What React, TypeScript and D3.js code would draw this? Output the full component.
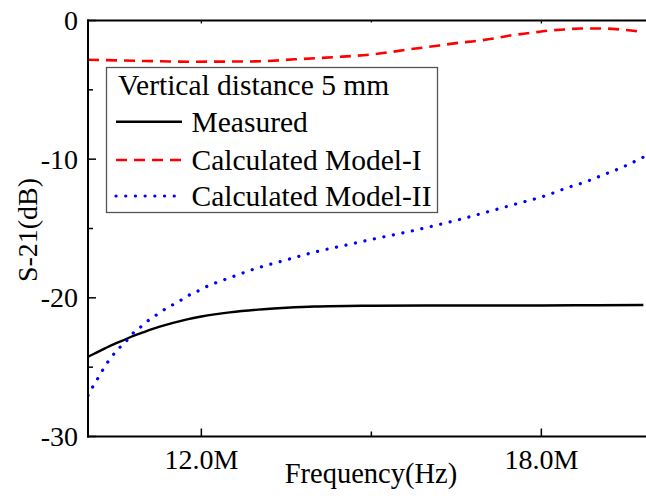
import React from "react";
import * as d3 from "d3";

const measuredFreq = [10.0, 10.15, 10.3, 10.45, 10.6, 10.8, 11.0, 11.25, 11.5, 11.75, 12.0, 12.5, 13.0, 13.5, 14.0, 15.0, 16.0, 17.0, 18.0, 19.0, 19.8];
const measuredDb = [-24.25, -23.95, -23.65, -23.35, -23.1, -22.75, -22.45, -22.1, -21.8, -21.55, -21.35, -21.05, -20.85, -20.72, -20.63, -20.57, -20.55, -20.55, -20.55, -20.53, -20.52];

const model1Freq = [10.0, 11.0, 11.76, 12.95, 13.65, 14.36, 14.99, 15.24, 15.6, 16.2, 16.5, 16.9, 17.2, 17.5, 17.8, 18.1, 18.4, 18.7, 19.1, 19.4, 19.8];
const model1Db = [-2.83, -2.92, -2.97, -2.95, -2.8, -2.64, -2.45, -2.33, -2.12, -1.8, -1.63, -1.45, -1.27, -1.05, -0.9, -0.74, -0.65, -0.58, -0.58, -0.65, -0.84];

const model2Freq = [10.0, 10.1, 10.19, 10.29, 10.39, 10.53, 10.66, 10.78, 10.89, 11.01, 11.15, 11.29, 11.45, 11.59, 11.74, 11.92, 12.14, 12.3, 12.47, 12.95, 13.47, 14.0, 14.55, 15.1, 15.63, 16.16, 16.51, 17.05, 17.58, 18.1, 18.43, 18.77, 19.08, 19.42, 19.8];
const model2Db = [-27.05, -26.3, -25.7, -25.0, -24.4, -23.7, -23.2, -22.6, -22.25, -21.8, -21.4, -21.0, -20.6, -20.3, -19.9, -19.55, -19.1, -18.85, -18.6, -17.9, -17.3, -16.7, -16.2, -15.7, -15.25, -14.75, -14.4, -13.8, -13.2, -12.6, -12.1, -11.65, -11.15, -10.6, -9.85];

const xMajorTicks = [12, 18];
const xMajorLabels = ["12.0M", "18.0M"];
const xMinorTicks = [15];
const yMajorTicks = [0, -10, -20, -30];
const yMinorTicks = [-5, -15, -25];

const legendTitle = "Vertical distance 5 mm";
const seriesNames = ["Measured", "Calculated Model-I", "Calculated Model-II"];

const W = 646;
const H = 496;
const left = 88;
const top = 20.5;
const bottom = 436.5;

const FONT = "'Liberation Serif', 'Times New Roman', serif";

export default function App() {
  const x = d3.scaleLinear().domain([10, 20]).range([left, left + 566.7]);
  const y = d3.scaleLinear().domain([-30, 0]).range([bottom, top]);

  const line = d3
    .line<[number, number]>()
    .x((d) => x(d[0]))
    .y((d) => y(d[1]))
    .curve(d3.curveMonotoneX);

  const mk = (f: number[], v: number[]) => f.map((ff, i) => [ff, v[i]] as [number, number]);

  const series = [
    { d: mk(measuredFreq, measuredDb), color: "#000", dash: undefined as string | undefined, width: 2.4, cap: "butt" },
    { d: mk(model1Freq, model1Db), color: "#ff0000", dash: "11,7", width: 2.6, cap: "butt" },
    { d: mk(model2Freq, model2Db), color: "#0000ff", dash: "0.1,9.6", width: 3.2, cap: "round" },
  ];

  const legX = 106.5;
  const legY = 67.5;
  const rowBase = [131.7, 170, 206];

  return (
    <svg width={W} height={H} style={{ position: "absolute", left: 0, top: 0, background: "#fff" }} fontFamily={FONT}>
      <defs>
        <clipPath id="plotClip">
          <rect x={left} y={top} width={W - left} height={bottom - top} />
        </clipPath>
      </defs>
      <rect x={0} y={0} width={W} height={H} fill="#fff" />

      <g clipPath="url(#plotClip)">
        {series.map((s, i) => (
          <path
            key={i}
            d={line(s.d) || ""}
            fill="none"
            stroke={s.color}
            strokeWidth={s.width}
            strokeDasharray={s.dash}
            strokeLinecap={s.cap as any}
          />
        ))}
      </g>

      {/* axes */}
      <line x1={left} x2={left} y1={top - 1} y2={bottom + 1} stroke="#000" strokeWidth={2} />
      <line x1={left - 1} x2={W} y1={bottom} y2={bottom} stroke="#000" strokeWidth={2} />
      <line x1={left - 1} x2={W} y1={top} y2={top} stroke="#000" strokeWidth={2} />

      {yMajorTicks.map((t) => (
        <g key={"ym" + t}>
          <line x1={left} x2={left + 8} y1={y(t)} y2={y(t)} stroke="#000" strokeWidth={1.5} />
          <text x={78} y={y(t) + 9.5} textAnchor="end" fontSize={28}>
            {t}
          </text>
        </g>
      ))}
      {yMinorTicks.map((t) => (
        <line key={"yn" + t} x1={left} x2={left + 5} y1={y(t)} y2={y(t)} stroke="#000" strokeWidth={1.5} />
      ))}
      {xMajorTicks.map((t, i) => (
        <g key={"xm" + t}>
          <line x1={x(t)} x2={x(t)} y1={bottom} y2={bottom - 8} stroke="#000" strokeWidth={1.5} />
          <line x1={x(t)} x2={x(t)} y1={top} y2={top + 3} stroke="#000" strokeWidth={1.2} />
          <text x={x(t)} y={469} textAnchor="middle" fontSize={28}>
            {xMajorLabels[i]}
          </text>
        </g>
      ))}
      {xMinorTicks.map((t) => (
        <g key={"xn" + t}>
          <line x1={x(t)} x2={x(t)} y1={bottom} y2={bottom - 5} stroke="#000" strokeWidth={1.5} />
          <line x1={x(t)} x2={x(t)} y1={top} y2={top + 2} stroke="#000" strokeWidth={1.2} />
        </g>
      ))}

      <text x={371} y={483} textAnchor="middle" fontSize={28.5}>
        Frequency(Hz)
      </text>
      <text transform={`translate(37,230) rotate(-90)`} textAnchor="middle" fontSize={28}>
        S-21(dB)
      </text>

      {/* legend */}
      <rect x={legX} y={legY} width={331} height={145} fill="#fff" stroke="#555" strokeWidth={1.3} />
      <text x={118} y={95} fontSize={29.5}>
        {legendTitle}
      </text>
      {series.map((s, i) => (
        <g key={"lg" + i}>
          <line
            x1={116}
            x2={182}
            y1={rowBase[i] - 10}
            y2={rowBase[i] - 10}
            stroke={s.color}
            strokeWidth={s.width}
            strokeDasharray={s.dash}
            strokeLinecap={s.cap as any}
          />
          <text x={191.5} y={rowBase[i]} fontSize={29.5}>
            {seriesNames[i]}
          </text>
        </g>
      ))}
    </svg>
  );
}
